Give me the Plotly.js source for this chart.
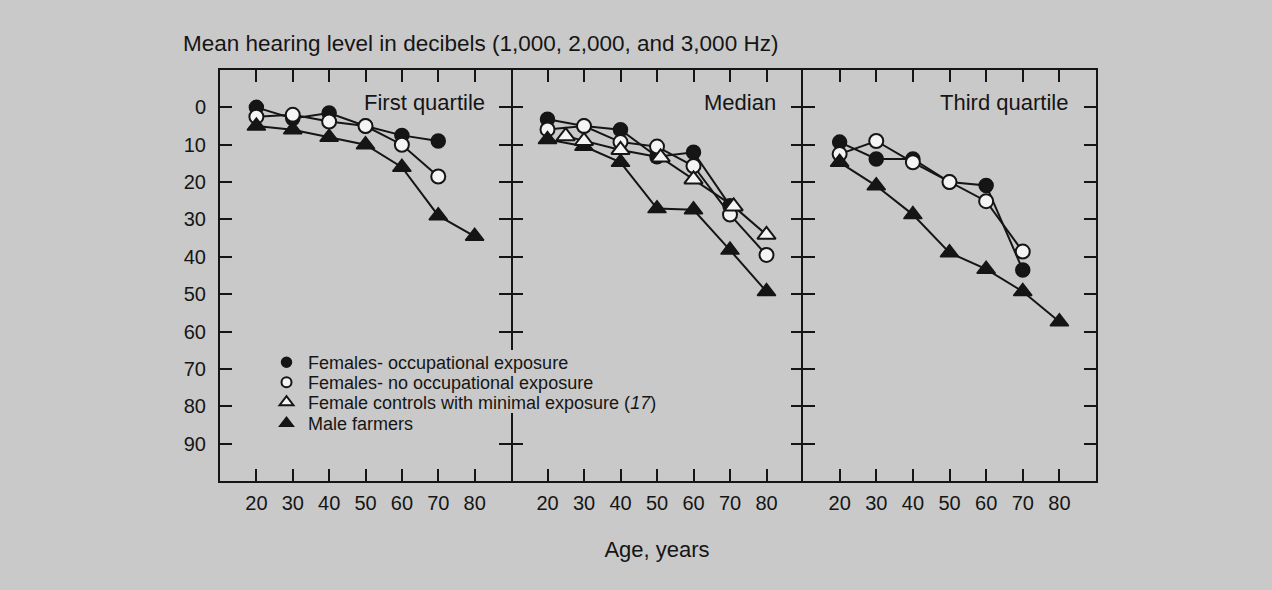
<!DOCTYPE html>
<html>
<head>
<meta charset="utf-8">
<script src="https://cdn.plot.ly/plotly-3.0.1.min.js"></script>
<style>html,body{margin:0;padding:0;background:#c9c9c9;}</style>
</head>
<body>
<div id="chart" style="width:1272px;height:590px;"></div>
<script>
// ---- data ----
const agesMale = [20, 30, 40, 50, 60, 70, 80];
const agesFemale = [20, 30, 40, 50, 60, 70];
const agesNoOccMedian = [20, 30, 40, 50, 60, 70, 80];
const agesControls = [25, 30, 40, 51, 60, 71, 80];

const q1Occ = [0, 3, 1.5, 5, 7.5, 9];
const q1NoOcc = [2.5, 2, 3.8, 5, 10, 18.5];
const q1Male = [5, 6, 8, 10, 16, 29, 34.5];

const medOcc = [3.2, 5, 6, 13.2, 12, 26.3];
const medNoOcc = [5.9, 5, 9.3, 10.5, 15.7, 28.7, 39.5];
const medControls = [7.7, 9, 11.4, 13.4, 19.3, 26.5, 34.1];
const medMale = [8.6, 10.4, 14.7, 27.1, 27.4, 38.2, 49.3];

const q3Occ = [9.3, 13.8, 13.8, 20, 20.9, 43.5];
const q3NoOcc = [12.5, 9, 14.7, 20, 25.1, 38.6];
const q3Male = [14.7, 21, 28.7, 38.9, 43.3, 49.3, 57.4];

const xTickVals = [20, 30, 40, 50, 60, 70, 80];
const xTickText = ['20', '30', '40', '50', '60', '70', '80'];
const yTickVals = [0, 10, 20, 30, 40, 50, 60, 70, 80, 90];
const yTickText = ['0', '10', '20', '30', '40', '50', '60', '70', '80', '90'];

const panelTitles = ['First quartile', 'Median', 'Third quartile'];
const seriesNames = ['Females- occupational exposure', 'Females- no occupational exposure',
  'Female controls with minimal exposure (<i>17</i>)', 'Male farmers'];

// ---- styles ----
const INK = '#151515';
const WHITE = '#f4f4f4';
const BG = '#c9c9c9';
const styles = {
  occ: {symbol: 'circle', color: INK, size: 14, lw: 1.5, lc: INK},
  noOcc: {symbol: 'circle', color: WHITE, size: 14, lw: 2, lc: INK},
  ctrl: {symbol: 'triangle-up', color: WHITE, size: 16, lw: 2, lc: INK},
  male: {symbol: 'triangle-up', color: INK, size: 16, lw: 1.5, lc: INK}
};

function series(x, y, st, ax) {
  return {
    x: x, y: y, mode: 'lines+markers', xaxis: 'x' + ax, yaxis: 'y' + ax,
    showlegend: false, hoverinfo: 'x+y', cliponaxis: false,
    line: {color: INK, width: 2},
    marker: {symbol: st.symbol, color: st.color, size: st.size, line: {color: st.lc, width: st.lw}}
  };
}
function legendItem(name, st, legendId) {
  return {
    x: [null], y: [null], mode: 'markers', name: name, showlegend: true, legend: legendId,
    marker: {symbol: st.symbol, color: st.color, size: st.size - 4, line: {color: st.lc, width: st.lw}}
  };
}

const traces = [
  series(agesFemale, q1Occ, styles.occ, ''),
  series(agesFemale, q1NoOcc, styles.noOcc, ''),
  series(agesMale, q1Male, styles.male, ''),

  series(agesFemale, medOcc, styles.occ, '2'),
  series(agesNoOccMedian, medNoOcc, styles.noOcc, '2'),
  series(agesMale, medMale, styles.male, '2'),
  series(agesControls, medControls, styles.ctrl, '2'),

  series(agesFemale, q3Occ, styles.occ, '3'),
  series(agesFemale, q3NoOcc, styles.noOcc, '3'),
  series(agesMale, q3Male, styles.male, '3'),

  legendItem(seriesNames[0], styles.occ, 'legend'),
  legendItem(seriesNames[1], styles.noOcc, 'legend2'),
  legendItem(seriesNames[2], styles.ctrl, 'legend3'),
  legendItem(seriesNames[3], styles.male, 'legend4')
];

const W = 876, H = 411, TOP = 70, LEFT = 220;
const rowCenters = [362, 382, 402, 423];
function xAxis(dom, anchor, extra) {
  return Object.assign({
    domain: dom, anchor: anchor, range: [10, 90], autorange: false,
    tickmode: 'array', tickvals: xTickVals, ticktext: xTickText,
    showline: true, linecolor: INK, linewidth: 2, mirror: 'ticks',
    ticks: 'inside', ticklen: 12, tickwidth: 2, tickcolor: INK,
    showgrid: false, zeroline: false, ticklabelstandoff: 3,
    tickfont: {size: 20, color: INK}
  }, extra || {});
}
function yAxis(anchor, showLabels, showLine) {
  return {
    domain: [0, 1], anchor: anchor, range: [100, -10], autorange: false,
    tickmode: 'array', tickvals: yTickVals, ticktext: yTickText,
    showticklabels: showLabels,
    showline: showLine, linecolor: INK, linewidth: 2, mirror: 'ticks',
    ticks: 'inside', ticklen: 12, tickwidth: 2, tickcolor: INK,
    showgrid: false, zeroline: false, ticklabelstandoff: 8,
    tickfont: {size: 20, color: INK}
  };
}
function legendAt(rowCenterPx) {
  return {
    x: (265 - LEFT) / W, xanchor: 'left', y: (TOP + H - (rowCenterPx - 18)) / H, yanchor: 'top',
    bgcolor: 'rgba(0,0,0,0)', borderwidth: 0, font: {size: 18, color: INK}, itemwidth: 33
  };
}
// background mask that opens the panel divider where the legend text crosses it
const dividerPx = LEFT + 291;
const maskShape = {
  type: 'rect', xref: 'paper', yref: 'paper', layer: 'above',
  x0: (dividerPx - 14 - LEFT) / W, x1: (dividerPx + 14 - LEFT) / W,
  y0: (TOP + H - (rowCenters[2] + 11)) / H, y1: (TOP + H - (rowCenters[0] - 12)) / H,
  fillcolor: BG, line: {width: 0}
};

const layout = {
  width: 1272, height: 590,
  paper_bgcolor: BG, plot_bgcolor: BG,
  margin: {l: 220, r: 176, t: 70, b: 109},
  font: {family: 'Liberation Sans, Arial, Helvetica, sans-serif', size: 20, color: INK},
  title: {
    text: 'Mean hearing level in decibels (1,000, 2,000, and 3,000 Hz)',
    xref: 'container', yref: 'container', x: 183 / 1272, xanchor: 'left',
    y: 1 - 43 / 590, yanchor: 'middle', font: {size: 22.5, color: INK}
  },
  showlegend: true,
  legend: legendAt(rowCenters[0]),
  legend2: legendAt(rowCenters[1]),
  legend3: legendAt(rowCenters[2]),
  legend4: legendAt(rowCenters[3]),
  xaxis: xAxis([0, 291 / W], 'y'),
  xaxis2: xAxis([291 / W, 583 / W], 'y2', {title: {text: 'Age, years', standoff: 29, font: {size: 22, color: INK}}}),
  xaxis3: xAxis([583 / W, 1], 'y3'),
  yaxis: yAxis('x', true, true),
  yaxis2: yAxis('x2', false, false),
  yaxis3: yAxis('x3', false, true),
  shapes: [maskShape],
  annotations: [
    {text: panelTitles[0], xref: 'x', yref: 'y', x: 83.4, y: -1.4, xanchor: 'right', yanchor: 'middle', showarrow: false, font: {size: 22, color: INK}},
    {text: panelTitles[1], xref: 'x2', yref: 'y2', x: 83.1, y: -1.4, xanchor: 'right', yanchor: 'middle', showarrow: false, font: {size: 22, color: INK}},
    {text: panelTitles[2], xref: 'x3', yref: 'y3', x: 82.8, y: -1.4, xanchor: 'right', yanchor: 'middle', showarrow: false, font: {size: 22, color: INK}}
  ]
};

Plotly.newPlot('chart', traces, layout, {displayModeBar: false, staticPlot: true});
</script>
</body>
</html>
